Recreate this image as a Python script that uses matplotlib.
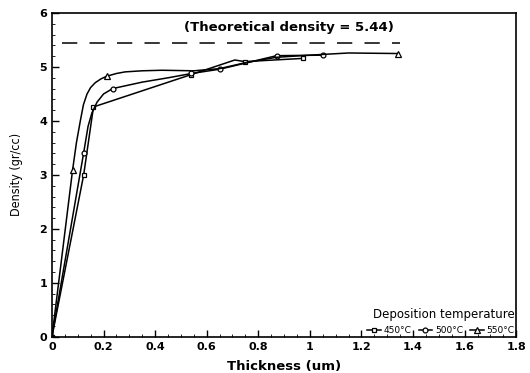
import matplotlib.pyplot as plt
from matplotlib.ticker import MultipleLocator

x_450 = [0, 0.123, 0.161, 0.54, 0.709, 0.748, 0.974]
y_450 = [0, 3.0, 4.26, 4.86, 5.13, 5.10, 5.16]
mark_450 = [0, 1, 2, 3, 5, 6]

x_500 = [0, 0.123, 0.14, 0.155, 0.175, 0.2, 0.235, 0.35, 0.45, 0.541, 0.651,
         0.871, 1.052]
y_500 = [0, 3.41, 3.9, 4.15, 4.35, 4.5, 4.6, 4.72, 4.8, 4.88, 4.96,
         5.21, 5.22]
mark_500 = [0, 1, 6, 9, 10, 11, 12]

x_550 = [0, 0.08, 0.095, 0.11, 0.122, 0.136, 0.15, 0.168, 0.19, 0.213,
         0.25, 0.284, 0.35, 0.426, 0.55, 0.65, 0.75, 0.87, 1.0, 1.15, 1.342]
y_550 = [0, 3.09, 3.6, 4.0, 4.3, 4.5, 4.62, 4.71, 4.78, 4.83,
         4.88, 4.91, 4.93, 4.94, 4.93, 4.97, 5.08, 5.18, 5.22, 5.26, 5.25]
mark_550 = [0, 1, 9, 20]

theoretical = 5.44

fig = plt.figure(figsize=(5.30, 3.73), dpi=100)
ax = fig.add_axes([0.098, 0.097, 0.876, 0.868])

ax.plot(x_450, y_450, color='black', lw=1.1, marker='s', ms=3.5, mfc='white',
        mew=0.9, markevery=mark_450, label='450°C')
ax.plot(x_500, y_500, color='black', lw=1.1, marker='o', ms=3.5, mfc='white',
        mew=0.9, markevery=mark_500, label='500°C')
ax.plot(x_550, y_550, color='black', lw=1.1, marker='^', ms=4, mfc='white',
        mew=0.9, markevery=mark_550, label='550°C')

# theoretical density line
ax.plot([0.04, 1.35], [theoretical, theoretical], color='black', lw=1.1,
        dashes=(10, 8))
ax.text(0.92, 5.62, '(Theoretical density = 5.44)', ha='center', va='bottom',
        fontsize=9.5, fontweight='bold')

ax.set_xlim(0, 1.8)
ax.set_ylim(0, 6)
ax.xaxis.set_minor_locator(MultipleLocator(0.05))
ax.yaxis.set_major_locator(MultipleLocator(1))
ax.yaxis.set_minor_locator(MultipleLocator(0.2))
ax.set_xticks([0, 0.2, 0.4, 0.6, 0.8, 1, 1.2, 1.4, 1.6, 1.8])
ax.set_xticklabels(['0', '0.2', '0.4', '0.6', '0.8', '1', '1.2', '1.4', '1.6', '1.8'])
ax.tick_params(direction='in', labelsize=8, width=1, length=5)
ax.tick_params(which='minor', direction='in', length=2.5)
for lab in ax.get_xticklabels() + ax.get_yticklabels():
    lab.set_fontweight('bold')

for s in ax.spines.values():
    s.set_linewidth(1.2)

ax.set_xlabel('Thickness (um)', fontsize=9.5, fontweight='bold', labelpad=6)
ax.set_ylabel('Density (gr/cc)', fontsize=9, family='DejaVu Sans',
              stretch='condensed', labelpad=12)

leg = ax.legend(loc='lower right', ncol=3, frameon=False, fontsize=6.5,
                title='Deposition temperature', title_fontsize=8.5,
                handlelength=1.5, handletextpad=0.3, columnspacing=0.8,
                borderaxespad=0.1, borderpad=0.1)
leg._legend_box.align = 'right'

plt.savefig('out.png', dpi=100)
